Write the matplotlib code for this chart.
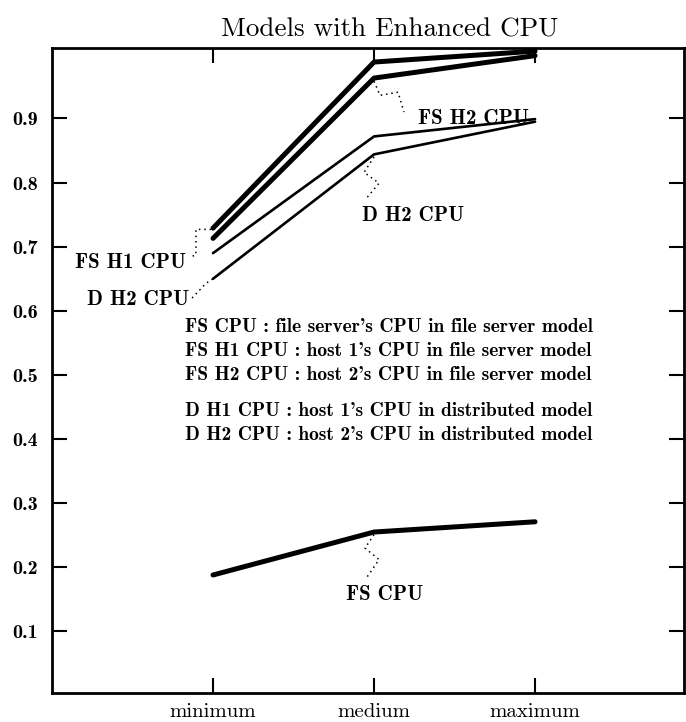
import matplotlib.pyplot as plt
import numpy as np

# CPU utilisation for the three load levels
categories = ["minimum", "medium", "maximum"]
fs_h1_cpu = [0.729, 0.988, 1.005]
fs_h2_cpu = [0.713, 0.963, 0.998]
d_h1_cpu = [0.690, 0.872, 0.899]
d_h2_cpu = [0.650, 0.844, 0.895]
fs_cpu = [0.188, 0.255, 0.271]

y_ticks = [0.1, 0.2, 0.3, 0.4, 0.5, 0.6, 0.7, 0.8, 0.9]
y_tick_labels = ["0.1", "0.2", "0.3", "0.4", "0.5", "0.6", "0.7", "0.8", "0.9"]

# the Computer Modern fonts put the curly apostrophe on the ASCII quote
notes = [
    "FS CPU : file server's CPU in file server model",
    "FS H1 CPU : host 1's CPU in file server model",
    "FS H2 CPU : host 2's CPU in file server model",
    "D H1 CPU : host 1's CPU in distributed model",
    "D H2 CPU : host 2's CPU in distributed model",
]

ROMAN = "cmr10"
BOLD = "cmb10"

fig = plt.figure(figsize=(6.86, 7.22), dpi=100)
ax = fig.add_axes([0.0758, 0.0402, 0.9213, 0.8934])

x = np.arange(1, len(categories) + 1)
thick, thin = 3.6, 1.9
ax.plot(x, fs_h1_cpu, color="black", lw=thick, solid_capstyle="round", clip_on=False)
ax.plot(x, fs_h2_cpu, color="black", lw=thick, solid_capstyle="round", clip_on=False)
ax.plot(x, d_h1_cpu, color="black", lw=thin, solid_capstyle="round")
ax.plot(x, d_h2_cpu, color="black", lw=thin, solid_capstyle="round")
ax.plot(x, fs_cpu, color="black", lw=thick, solid_capstyle="round")

ax.set_xlim(0, 3.925)
ax.set_ylim(0.004, 1.01)

ax.set_xticks(x)
ax.set_xticklabels(categories, fontfamily=ROMAN, fontsize=15)
ax.set_yticks(y_ticks)
ax.set_yticklabels(y_tick_labels, fontfamily=BOLD, fontsize=14.5)
ax.tick_params(axis="x", direction="in", top=True, length=10.5, width=1.5, pad=7)
ax.tick_params(axis="y", direction="in", right=True, length=10.5, width=1.5, pad=10)
for sp in ax.spines.values():
    sp.set_linewidth(2)

# curve labels with dotted leaders
dots = dict(color="black", lw=1.1, linestyle=(0, (1, 2.5)))
ax.plot([0.988, 0.894, 0.894, 0.857], [0.727, 0.727, 0.687, 0.684], **dots)
ax.plot([0.870, 0.957, 1.0], [0.620, 0.643, 0.650], **dots)
ax.plot([2.0, 2.037, 2.149, 2.186], [0.958, 0.936, 0.941, 0.910], **dots)
ax.plot([2.0, 1.938, 2.031, 1.944], [0.840, 0.816, 0.799, 0.773], **dots)
ax.plot([2.0, 1.944, 2.031, 1.957], [0.251, 0.230, 0.212, 0.185], **dots)

lab = dict(fontfamily=BOLD, fontsize=15, va="center")
ax.text(0.832, 0.676, "FS H1 CPU", ha="right", **lab)
ax.text(0.851, 0.618, "D H2 CPU", ha="right", **lab)
ax.text(2.273, 0.900, "FS H2 CPU", ha="left", **lab)
ax.text(1.925, 0.749, "D H2 CPU", ha="left", **lab)
ax.text(1.826, 0.157, "FS CPU", ha="left", **lab)

note_y = [0.575, 0.538, 0.500, 0.444, 0.407]
for txt, yy in zip(notes, note_y):
    ax.text(0.823, yy, txt, ha="left", va="center", fontfamily=BOLD, fontsize=14)

fig.text(0.5685, 0.949, "Models with Enhanced CPU", ha="center", va="baseline",
         fontfamily=ROMAN, fontsize=19.5)

fig.savefig("out.png", dpi=100)
